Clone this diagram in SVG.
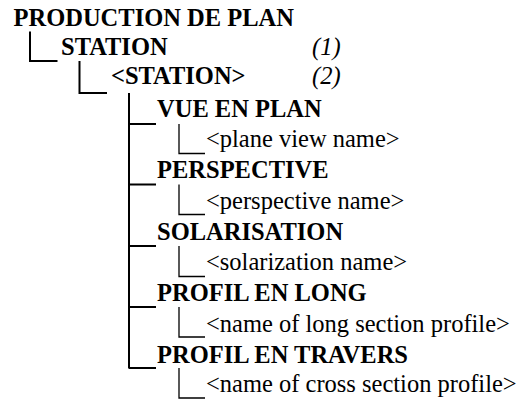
<svg xmlns="http://www.w3.org/2000/svg" width="527" height="400" viewBox="0 0 527 400">
  <style>
    text { font-family: "Liberation Serif", "Times New Roman", serif; font-size: 24.5px; fill: #000; }
    .b { font-weight: bold; }
    .i { font-style: italic; }
    .link { fill: none; stroke: #000; stroke-width: 2; }
    .sub { fill: none; stroke: #000; stroke-width: 1.3; }
  </style>
  <rect width="527" height="400" fill="#fff"/>

  <!-- tree connectors -->
  <g id="connectors">
    <path class="link" d="M30,31.5 V61 H57.5"/>
    <path class="link" d="M79.5,61 V93 H107"/>
    <path class="link" d="M129,93 V368.5"/>
    <path class="link" d="M129,124 H156 M129,184.5 H156 M129,246 H156 M129,307 H156 M129,368 H156"/>
    <path class="sub" d="M179,124 V153.5 H205"/>
    <path class="sub" d="M179,184.5 V214.5 H205"/>
    <path class="sub" d="M179,246 V276.5 H205"/>
    <path class="sub" d="M179,307 V337 H205"/>
    <path class="sub" d="M179,368 V398 H205"/>
  </g>

  <g id="root"><text class="b" x="13.5" y="26">PRODUCTION DE PLAN</text></g>
  <g id="station">
    <text class="b" x="61" y="55">STATION</text>
    <text class="i" x="312" y="55">(1)</text>
  </g>
  <g id="station-item">
    <text class="b" x="111" y="84">&lt;STATION&gt;</text>
    <text class="i" x="312" y="84">(2)</text>
  </g>
  <g id="vue-en-plan">
    <text class="b" x="157" y="116.5">VUE EN PLAN</text>
    <text x="206" y="147">&lt;plane view name&gt;</text>
  </g>
  <g id="perspective">
    <text class="b" x="157" y="178">PERSPECTIVE</text>
    <text x="206" y="208.5">&lt;perspective name&gt;</text>
  </g>
  <g id="solarisation">
    <text class="b" x="157" y="239.5">SOLARISATION</text>
    <text x="206" y="270">&lt;solarization name&gt;</text>
  </g>
  <g id="profil-en-long">
    <text class="b" x="157" y="301">PROFIL EN LONG</text>
    <text x="206" y="331.5">&lt;name of long section profile&gt;</text>
  </g>
  <g id="profil-en-travers">
    <text class="b" x="157" y="362.5">PROFIL EN TRAVERS</text>
    <text x="206" y="392">&lt;name of cross section profile&gt;</text>
  </g>
</svg>
